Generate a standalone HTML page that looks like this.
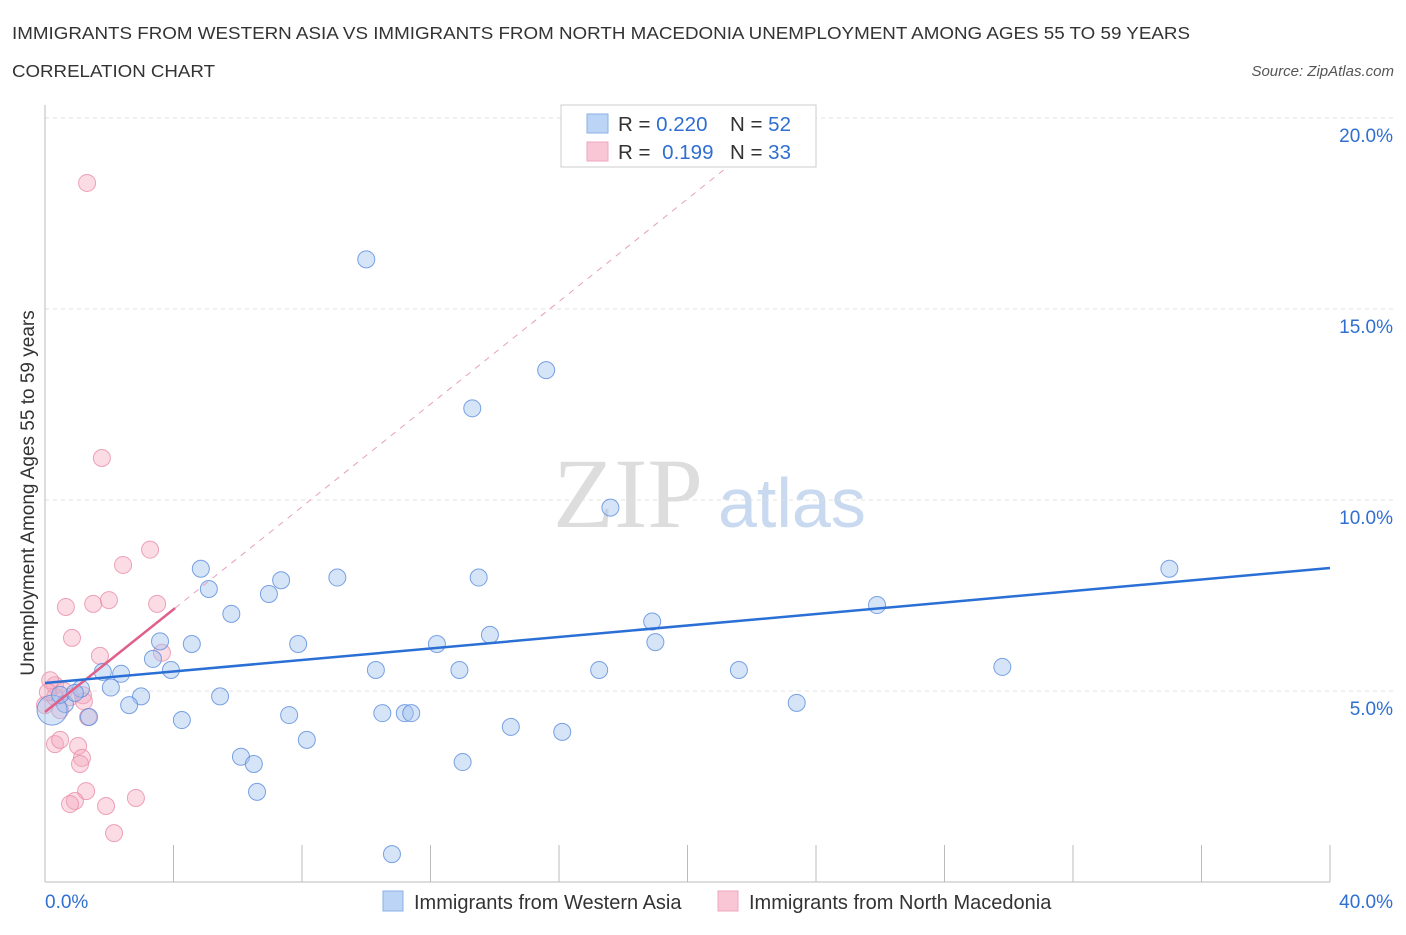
<!DOCTYPE html>
<html><head><meta charset="utf-8"><style>
body{margin:0;background:#fff;font-family:"Liberation Sans",sans-serif;}
svg text{font-family:"Liberation Sans",sans-serif;}
</style></head><body>
<svg id="c" width="1406" height="930" xmlns="http://www.w3.org/2000/svg">
<text x="12" y="39" font-size="17.5" fill="#333" textLength="1178" lengthAdjust="spacingAndGlyphs">IMMIGRANTS FROM WESTERN ASIA VS IMMIGRANTS FROM NORTH MACEDONIA UNEMPLOYMENT AMONG AGES 55 TO 59 YEARS</text>
<text x="12" y="77" font-size="17.5" fill="#333" textLength="203" lengthAdjust="spacingAndGlyphs">CORRELATION CHART</text>
<text x="1394" y="76" font-size="15" fill="#555" font-style="italic" text-anchor="end">Source: ZipAtlas.com</text>
<text x="34" y="493" font-size="19" fill="#333" text-anchor="middle" transform="rotate(-90 34 493)">Unemployment Among Ages 55 to 59 years</text>
<text x="553" y="527" font-size="100" fill="#ddd" style="font-family:'Liberation Serif',serif">ZIP</text>
<text x="718" y="527" font-size="70" fill="#c8d9f0">atlas</text>
<g id="grid"></g><g id="marks"></g>
<g>
<rect x="561" y="105" width="255" height="62" fill="#fff" stroke="#ccc"/>
<rect x="587" y="114" width="21" height="19" fill="#bcd4f5" stroke="#8ab0e6"/>
<rect x="587" y="142" width="21" height="19" fill="#f9c6d5" stroke="#eea7bd"/>
<text x="618" y="131" font-size="20.5" fill="#333">R = <tspan fill="#2f6fd0">0.220</tspan></text>
<text x="730" y="131" font-size="20.5" fill="#333">N = <tspan fill="#2f6fd0">52</tspan></text>
<text x="618" y="159" font-size="20.5" fill="#333">R = <tspan fill="#2f6fd0" dx="6">0.199</tspan></text>
<text x="730" y="159" font-size="20.5" fill="#333">N = <tspan fill="#2f6fd0">33</tspan></text>
</g>
<g>
<rect x="383" y="891" width="20" height="20" fill="#bcd4f5" stroke="#8ab0e6"/>
<text x="414" y="909" font-size="20" fill="#333">Immigrants from Western Asia</text>
<rect x="718" y="891" width="20" height="20" fill="#f9c6d5" stroke="#eea7bd"/>
<text x="749" y="909" font-size="20" fill="#333">Immigrants from North Macedonia</text>
</g>
</svg>
<script>
const yTicks=[5,10,15,20];
const xTickLabels=["0.0%","40.0%"];
const blueX=[10.0,15.6,13.3,17.6,35.0,4.85,7.35,9.1,13.5,5.1,6.97,5.8,18.9,25.9,4.57,7.88,3.58,12.2,13.85,19.0,3.36,3.92,1.8,2.37,10.3,12.9,17.25,21.6,29.8,2.05,1.12,2.99,5.45,2.62,23.4,7.6,4.26,10.5,11.2,11.4,1.37,14.5,16.1,8.15,6.1,6.5,13.0,6.6,10.8,0.62,0.22,0.47,0.93];
const blueY=[16.3,13.4,12.4,9.8,8.2,8.2,7.9,7.97,7.97,7.67,7.54,7.02,6.82,7.25,6.23,6.23,6.3,6.23,6.47,6.28,5.84,5.55,5.5,5.45,5.55,5.55,5.55,5.55,5.63,5.09,5.06,4.86,4.86,4.63,4.69,4.37,4.24,4.42,4.42,4.42,4.32,4.06,3.93,3.72,3.28,3.09,3.14,2.36,0.73,4.66,4.5,4.9,4.95];
const pinkX=[1.31,1.77,3.27,2.43,0.65,1.5,1.99,3.49,0.84,1.71,3.64,1.18,0.31,0.16,0.59,0.78,1.34,0.31,0.47,1.03,1.15,1.09,1.28,0.93,0.78,1.9,2.83,2.15,0.47,0.0,0.31,1.21,0.09];
const pinkY=[18.3,11.1,8.7,8.3,7.2,7.28,7.38,7.28,6.39,5.92,6.0,4.89,5.15,5.28,5.0,4.84,4.32,3.61,3.72,3.56,3.25,3.09,2.38,2.12,2.04,1.99,2.2,1.28,4.5,4.63,4.84,4.73,4.97];
const blueTrend=[5.21,8.22];
const pinkTrend=[4.45,7.17];
const NS="http://www.w3.org/2000/svg";
const X=v=>45+v*32.125, Y=v=>882-v*38.2;
function mk(p,t,a){const e=document.createElementNS(NS,t);for(const k in a)e.setAttribute(k,a[k]);p.appendChild(e);return e;}
const g=document.getElementById('grid'), m=document.getElementById('marks');
yTicks.forEach(t=>{
 const l=mk(g,'line',{x1:45,x2:1395,y1:Y(t),y2:Y(t),stroke:'#e0e0e0','stroke-dasharray':'4 4'});
 
 
 const tx=mk(g,'text',{x:1393,y:Y(t)+24,'font-size':19,fill:'#2f6fd0','text-anchor':'end'});tx.textContent=t.toFixed(1)+'%';
 
 
});
const ax=mk(g,'line',{x1:45,x2:45,y1:105,y2:882,stroke:'#bbb'});


const bx=mk(g,'line',{x1:45,x2:1330,y1:882,y2:882,stroke:'#bbb'});


for(let i=1;i<=10;i++){const t=mk(g,'line',{x1:X(i*4),x2:X(i*4),y1:845,y2:882,stroke:'#bbb'});
 
 }
[[0,'start',45],[40,'end',1393]].forEach((d,i)=>{const t=mk(g,'text',{x:d[2],y:908,'font-size':19,fill:'#2f6fd0','text-anchor':d[1]});t.textContent=xTickLabels[i];
 
 });
pinkX.forEach((x,i)=>{const c=mk(m,'circle',{cx:X(x),cy:Y(pinkY[i]),r:8.5,fill:'rgba(245,168,190,0.4)',stroke:'rgba(232,140,168,0.8)'});
 
 });
blueX.forEach((x,i)=>{const c=mk(m,'circle',{cx:X(x),cy:Y(blueY[i]),r:i==50?15:8.5,fill:'rgba(164,196,240,0.45)',stroke:'rgba(90,140,220,0.8)'});
 
 });
const ps=(pinkTrend[1]-pinkTrend[0])/4.05;
const pd=mk(m,'line',{x1:X(4.05),y1:Y(pinkTrend[1]),x2:X(21.6),y2:Y(pinkTrend[0]+ps*21.6),stroke:'#e6a0b8','stroke-dasharray':'6 6'});


const pl=mk(m,'line',{x1:X(0),y1:Y(pinkTrend[0]),x2:X(4.05),y2:Y(pinkTrend[1]),stroke:'#e0608a','stroke-width':2.5});


const bl=mk(m,'line',{x1:X(0),y1:Y(blueTrend[0]),x2:X(40),y2:Y(blueTrend[1]),stroke:'#2a6fd6','stroke-width':2.5});


</script>
</body></html>
